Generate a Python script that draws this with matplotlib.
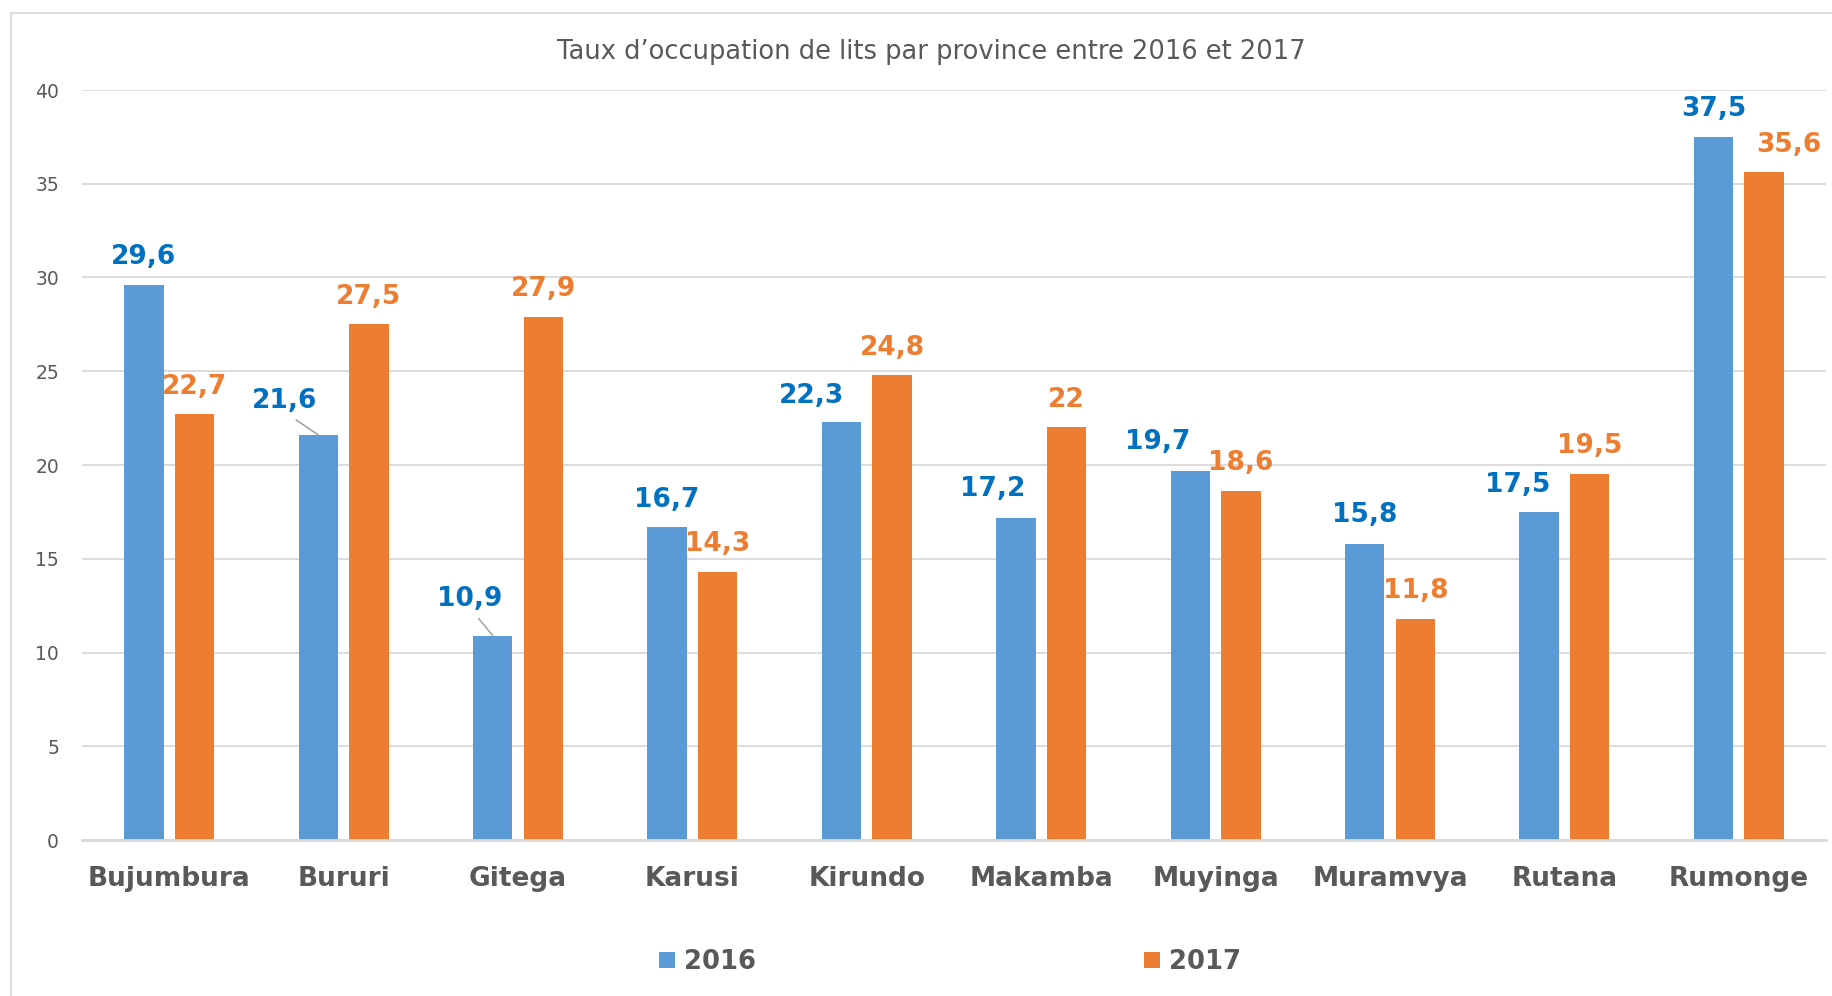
import matplotlib
matplotlib.use("Agg")
import matplotlib.pyplot as plt
from matplotlib.patches import Rectangle
import numpy as np

# ---- data ----
provinces = ["Bujumbura", "Bururi", "Gitega", "Karusi", "Kirundo",
             "Makamba", "Muyinga", "Muramvya", "Rutana", "Rumonge"]
taux_2016 = [29.6, 21.6, 10.9, 16.7, 22.3, 17.2, 19.7, 15.8, 17.5, 37.5]
taux_2017 = [22.7, 27.5, 27.9, 14.3, 24.8, 22.0, 18.6, 11.8, 19.5, 35.6]
series_labels = ["2016", "2017"]
y_ticks = [0, 5, 10, 15, 20, 25, 30, 35, 40]
title = "Taux d\u2019occupation de lits par province entre 2016 et 2017"

# ---- style ----
W, H = 1832, 996
C16, C17 = "#5B9BD5", "#ED7D31"
L16, L17 = "#0070C0", "#ED7D31"
GREY = "#595959"
GRID = "#D9D9D9"
FONT = "DejaVu Sans"

# label offsets in pixels (dx, dy) and leader-line flags
off16 = [(0, 28), (-34, 34), (-23, 37), (0, 27), (-30, 26),
         (-23, 29), (-33, 29), (0, 29), (-21, 27), (0, 28)]
lead16 = [False, True, True, False, False, False, False, False, False, False]
off17 = [(0, 27), (0, 27), (0, 28), (0, 28), (0, 27),
         (0, 28), (0, 28), (0, 28), (0, 28), (25, 28)]


def fmt(v):
    s = ("%.1f" % v).rstrip("0").rstrip(".")
    return s.replace(".", ",")


fig = plt.figure(figsize=(W / 100, H / 100), dpi=100)
fig.patch.set_facecolor("white")

ax = fig.add_axes([82 / W, 1 - 840 / H, 1744 / W, 750 / H])
x = np.arange(len(provinces))
bw = 0.2265
sep = 0.145
b1 = ax.bar(x - sep, taux_2016, bw, color=C16, zorder=3)
b2 = ax.bar(x + sep, taux_2017, bw, color=C17, zorder=3)

ax.set_xlim(-0.5, len(provinces) - 0.5)
ax.set_ylim(0, 40)
ax.set_yticks(y_ticks)
ax.set_yticklabels([str(t) for t in y_ticks], fontsize=13.5, color=GREY,
                   family=FONT)
ax.set_xticks(x)
ax.set_xticklabels(provinces, fontsize=19, fontweight="bold", color=GREY,
                   family=FONT)
ax.tick_params(axis="y", length=0, pad=16.5)
ax.tick_params(axis="x", length=0, pad=19)
ax.grid(axis="y", color=GRID, lw=1.3, zorder=0)
for s in ["top", "right", "left"]:
    ax.spines[s].set_visible(False)
ax.spines["bottom"].set_color(GRID)
ax.spines["bottom"].set_linewidth(2)
ax.spines["bottom"].set_zorder(4)

for i in range(len(provinces)):
    for xs, vals, offs, col, lead in (
        (x - sep, taux_2016, off16, L16, lead16[i]),
        (x + sep, taux_2017, off17, L17, False),
    ):
        dx, dy = offs[i]
        kw = {}
        if lead:
            kw["arrowprops"] = dict(arrowstyle="-", color="#A6A6A6", lw=1.2,
                                    shrinkA=4, shrinkB=0, relpos=(0.55, 0.0))
        ax.annotate(fmt(vals[i]), xy=(xs[i], vals[i]), xytext=(dx, dy),
                    textcoords="offset pixels", ha="center", va="center",
                    fontsize=19, fontweight="bold", color=col,
                    family=FONT, zorder=5, **kw)

fig.text(931 / W, 1 - 52 / H, title, ha="center", va="center",
         fontsize=18.5, color=GREY, family=FONT)

leg = fig.legend(handles=[b1, b2], labels=series_labels, loc="center",
                 bbox_to_anchor=(950 / W, 1 - 962 / H), ncol=2, frameon=False,
                 prop=dict(family=FONT, weight="bold", size=18.6),
                 handlelength=0.62, handleheight=0.62, handletextpad=0.35,
                 columnspacing=15.0, borderaxespad=0, borderpad=0)
for t in leg.get_texts():
    t.set_color(GREY)

fig.add_artist(Rectangle((10.5 / W, -0.05), 1.2, 1 - 13 / H + 0.05,
                         transform=fig.transFigure, fill=False,
                         edgecolor=GRID, lw=1.3, clip_on=False))

fig.savefig("out.png", dpi=100)
